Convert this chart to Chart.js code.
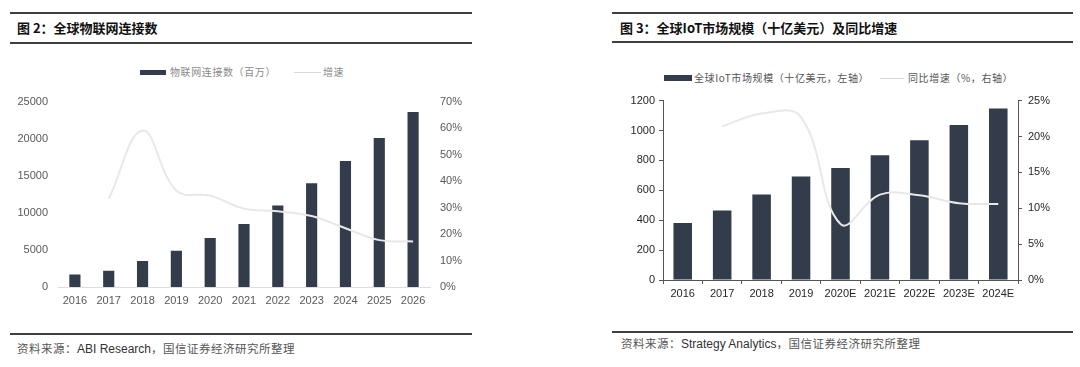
<!DOCTYPE html>
<html>
<head>
<meta charset="utf-8">
<script src="https://cdn.jsdelivr.net/npm/chart.js@4/dist/chart.umd.min.js"></script>
<style>
  html, body { margin: 0; padding: 0; background: #fff; }
  body { width: 1080px; height: 367px; position: relative; overflow: hidden;
         font-family: "Liberation Sans", "Noto Sans CJK SC", sans-serif; }
  .rule { position: absolute; height: 2px; background: #3f3f3f; }
  .title { position: absolute; font-family: "Noto Sans CJK SC", sans-serif; font-weight: bold;
           font-size: 13px; color: #111; line-height: 16px; white-space: nowrap; }
  .src { position: absolute; font-size: 12px; line-height: 14px; color: #333; white-space: nowrap; }
  .src .cn { font-family: "Noto Sans CJK SC", sans-serif; color: #555; font-size: 11.5px; letter-spacing: 0.5px; }
  .box { position: absolute; background: #333c4a; }
  .lg { position: absolute; height: 1px; background: #d8d8d8; }
  .lt { position: absolute; font-family: "Noto Sans CJK SC", sans-serif; font-size: 10px;
        line-height: 12px; white-space: nowrap; letter-spacing: 0.6px; }
  .wrap { position: absolute; }
</style>
</head>
<body>

<!-- left panel -->
<div class="rule" style="left:10px; top:12px; width:462px;"></div>
<div class="title" style="left:17px; top:20px;">图 2：全球物联网连接数</div>
<div class="rule" style="left:10px; top:42px; width:462px;"></div>
<div class="box" style="left:140px; top:70px; width:26px; height:5px;"></div>
<div class="lt" style="left:170px; top:66px; color:#8a8a8a;">物联网连接数（百万）</div>
<div class="lg" style="left:294px; top:72px; width:27px;"></div>
<div class="lt" style="left:323px; top:66px; color:#8a8a8a;">增速</div>
<div class="wrap" style="left:0; top:85px; width:480px; height:225px;"><canvas id="connChart"></canvas></div>
<div class="rule" style="left:10px; top:333px; width:462px;"></div>
<div class="src" style="left:17px; top:341px;"><span class="cn">资料来源：</span>ABI Research<span class="cn">，国信证券经济研究所整理</span></div>

<!-- right panel -->
<div class="rule" style="left:612px; top:12px; width:461px;"></div>
<div class="title" style="left:620px; top:20px;">图 3：全球IoT市场规模（十亿美元）及同比增速</div>
<div class="rule" style="left:612px; top:41px; width:461px;"></div>
<div class="box" style="left:664px; top:75px; width:28px; height:6px;"></div>
<div class="lt" style="left:694px; top:72px; color:#555;">全球IoT市场规模（十亿美元，左轴）</div>
<div class="lg" style="left:880px; top:78px; width:24px;"></div>
<div class="lt" style="left:908px; top:72px; color:#555;">同比增速（%，右轴）</div>
<div class="wrap" style="left:600px; top:88px; width:480px; height:217px;"><canvas id="iotChart"></canvas></div>
<div class="rule" style="left:612px; top:331px; width:461px;"></div>
<div class="src" style="left:621px; top:336px;"><span class="cn">资料来源：</span>Strategy Analytics<span class="cn">，国信证券经济研究所整理</span></div>

<script>
// ---- data: global IoT connections (millions) ----
const connYears = ['2016', '2017', '2018', '2019', '2020', '2021', '2022', '2023', '2024', '2025', '2026'];
const connCount = [1700, 2200, 3500, 4900, 6600, 8500, 11000, 14000, 17000, 20100, 23600];
const connGrowth = [null, 33.3, 59.1, 36.4, 34.5, 29.6, 28.6, 26.8, 22.2, 17.7, 17.2];
const connLeftTicks = [0, 5000, 10000, 15000, 20000, 25000];
const connRightTicks = [0, 10, 20, 30, 40, 50, 60, 70];

// ---- data: global IoT market size (bn USD) ----
const iotYears = ['2016', '2017', '2018', '2019', '2020E', '2021E', '2022E', '2023E', '2024E'];
const iotSize = [382, 465, 572, 692, 749, 835, 935, 1036, 1147];
const iotGrowth = [null, 21.4, 23.2, 22.7, 7.8, 11.9, 11.8, 10.7, 10.6];
const iotLeftTicks = [0, 200, 400, 600, 800, 1000, 1200];
const iotRightTicks = [0, 5, 10, 15, 20, 25];

const BAR = '#333c4a';
const LINE = '#e8e8e8';

function fixWidth(w) { return function(scale) { scale.width = w; }; }
function fixHeight(h) { return function(scale) { scale.height = h; }; }
function useTicks(list) { return function(scale) { scale.ticks = list.map(v => ({ value: v })); }; }
const plain = v => String(v);
const pct = v => v + '%';

/**
 * Left chart: connections bars + growth line
 */
new Chart(document.getElementById('connChart'), {
    data: {
        labels: connYears,
        datasets: [
            {
                type: 'line',
                data: connGrowth,
                yAxisID: 'y1',
                borderColor: LINE,
                borderWidth: 2,
                pointRadius: 0,
                tension: 0.4,
                order: 0
            },
            {
                type: 'bar',
                data: connCount,
                yAxisID: 'y',
                backgroundColor: BAR,
                barPercentage: 0.33,
                categoryPercentage: 1,
                order: 1
            }
        ]
    },
    options: {
        responsive: true,
        maintainAspectRatio: false,
        animation: false,
        layout: { padding: { top: 12, left: 0, right: 0, bottom: 0 } },
        plugins: { legend: { display: false }, tooltip: { enabled: false } },
        scales: {
            x: {
                afterFit: fixHeight(23),
                grid: { display: false, drawTicks: false },
                border: { display: true, color: '#dedede', width: 1 },
                ticks: { color: '#595959', font: { size: 11, family: 'Liberation Sans' }, padding: 7, maxRotation: 0 }
            },
            y: {
                position: 'left',
                min: 0, max: 25000,
                afterFit: fixWidth(58),
                afterBuildTicks: useTicks(connLeftTicks),
                grid: { display: false, drawTicks: false },
                border: { display: false },
                ticks: { color: '#595959', font: { size: 11, family: 'Liberation Sans' }, padding: 10, callback: plain }
            },
            y1: {
                position: 'right',
                min: 0, max: 70,
                afterFit: fixWidth(50),
                afterBuildTicks: useTicks(connRightTicks),
                grid: { display: false, drawTicks: false },
                border: { display: false },
                ticks: { color: '#595959', font: { size: 11, family: 'Liberation Sans' }, padding: 10, callback: pct }
            }
        }
    }
});

/**
 * Right chart: market size bars + YoY growth line
 */
new Chart(document.getElementById('iotChart'), {
    data: {
        labels: iotYears,
        datasets: [
            {
                type: 'line',
                data: iotGrowth,
                yAxisID: 'y1',
                borderColor: LINE,
                borderWidth: 2,
                pointRadius: 0,
                tension: 0.4,
                order: 0
            },
            {
                type: 'bar',
                data: iotSize,
                yAxisID: 'y',
                backgroundColor: BAR,
                barPercentage: 0.47,
                categoryPercentage: 1,
                order: 1
            }
        ]
    },
    options: {
        responsive: true,
        maintainAspectRatio: false,
        animation: false,
        layout: { padding: { top: 11, left: 0, right: 0, bottom: 0 } },
        plugins: { legend: { display: false }, tooltip: { enabled: false } },
        scales: {
            x: {
                afterFit: fixHeight(25),
                grid: { display: true, drawOnChartArea: false, drawTicks: true, tickLength: 4, color: '#555', offset: true },
                border: { display: true, color: '#555', width: 1 },
                ticks: { color: '#262626', font: { size: 11, family: 'Liberation Sans' }, padding: 3, maxRotation: 0 }
            },
            y: {
                position: 'left',
                min: 0, max: 1200,
                afterFit: fixWidth(63),
                afterBuildTicks: useTicks(iotLeftTicks),
                grid: { display: true, drawOnChartArea: false, drawTicks: true, tickLength: 4, color: '#555' },
                border: { display: true, color: '#555', width: 1 },
                ticks: { color: '#262626', font: { size: 11, family: 'Liberation Sans' }, padding: 4, callback: plain }
            },
            y1: {
                position: 'right',
                min: 0, max: 25,
                afterFit: fixWidth(62),
                afterBuildTicks: useTicks(iotRightTicks),
                grid: { display: true, drawOnChartArea: false, drawTicks: true, tickLength: 4, color: '#555' },
                border: { display: true, color: '#555', width: 1 },
                ticks: { color: '#262626', font: { size: 11, family: 'Liberation Sans' }, padding: 6, callback: pct }
            }
        }
    }
});
</script>
</body>
</html>
